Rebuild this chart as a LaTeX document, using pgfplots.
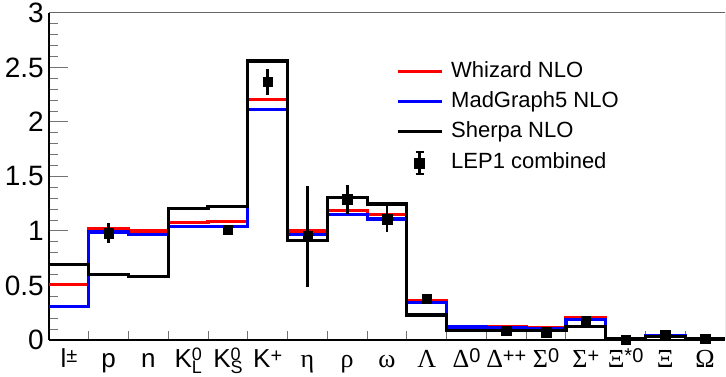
\documentclass[border=0pt]{standalone}
\usepackage{fontspec}
\setmainfont{Liberation Sans}
\newfontfamily\grk{Liberation Serif}
\usepackage{pgfplots}
\pgfplotsset{compat=1.18}
\usepackage{pgfplotstable}

% raised / lowered indices for the particle names
\newcommand\sps[1]{\raisebox{5pt}{\normalfont\fontsize{20}{20}\selectfont #1}}
\newcommand\spk[1]{\raisebox{7pt}{\normalfont\fontsize{18}{18}\selectfont #1}}
\newcommand\sbs[1]{\raisebox{-6pt}{\normalfont\fontsize{18}{18}\selectfont #1}}
\newcommand\spsb[2]{\rlap{\spk{#1}}\sbs{#2}}

% legend symbols: a short line for the generators, a point with error bar for the data
\pgfplotsset{
  histleg/.style={legend image code/.code={\draw[##1] (0pt,0pt) -- (44pt,0pt);}},
  lepleg/.style={legend image code/.code={
    \draw[black, line width=2.6pt] (22pt,-11pt) -- (22pt,11pt);
    \draw[black, line width=2pt] (18pt,-11pt) -- (26pt,-11pt) (18pt,11pt) -- (26pt,11pt);
    \fill[black] (17pt,-5pt) rectangle (27pt,5pt);}},
}

% multiplicity ratios per species, bin left edge in column x
\pgfplotstableread{
x   whz    mg     sh
0   0.51   0.31   0.69
1   1.02   0.99   0.598
2   1.00   0.97   0.58
3   1.08   1.04   1.205
4   1.085  1.04   1.225
5   2.21   2.115  2.56
6   1.00   0.965  0.91
7   1.19   1.155  1.31
8   1.15   1.11   1.248
9   0.36   0.345  0.23
10  0.125  0.12   0.09
11  0.12   0.115  0.09
12  0.11   0.10   0.09
13  0.205  0.19   0.122
14  0.015  0.013  0.012
15  0.04   0.037  0.03
16  0.015  0.013  0.012
17  0.015  0.013  0.012
}\hists

% LEP1 combined measurements at bin centres
\pgfplotstableread{
x     y      e
1.5   0.98   0.09
4.5   1.01   0.02
5.5   2.37   0.12
6.5   0.95   0.46
7.5   1.29   0.13
8.5   1.11   0.115
9.5   0.377  0.01
11.5  0.086  0.005
12.5  0.07   0.005
13.5  0.178  0.01
14.5  0.005  0.002
15.5  0.046  0.003
16.5  0.01   0.002
}\lep

\begin{document}
\begin{tikzpicture}
\begin{axis}[
  at={(0pt,0pt)}, anchor=south west,
  scale only axis, width=676pt, height=327pt,
  xmin=0, xmax=17, ymin=0, ymax=3,
  axis x line*=bottom, axis y line*=left,
  axis line style={black, line width=1.5pt},
  tick align=inside,
  major tick length=19pt, minor tick length=9pt,
  every tick/.style={black!55, line width=1pt},
  xtick={0.5,1.5,...,16.5},
  every major x tick/.append style={draw=none},
  minor xtick={1,...,16},
  xticklabels={{l\sps{±}},p,n,{K\spsb{0}{L}},{K\spsb{0}{S}},{K\sps{+}},{\grk η},{\grk ρ},{\grk ω},{\grk Λ},{\grk Δ\sps{0}},{\grk Δ\sps{++}},{\grk Σ\sps{0}},{\grk Σ\sps{+}},{\grk Ξ\sps{*0}},{\grk Ξ},{\grk Ω}},
  xticklabel style={font=\fontsize{26}{28}\selectfont, anchor=north, inner sep=0pt, text height=22pt, yshift=-5pt},
  ytick={0,0.5,...,3}, minor y tick num=4,
  yticklabel style={font=\fontsize{28}{30}\selectfont, anchor=east, inner sep=0pt, xshift=-5pt},
  /pgf/number format/assume math mode=true,
  legend cell align=left,
  legend style={at={(0.5133,0.853)}, anchor=north west, draw=none, fill=none,
    inner sep=0pt, outer sep=0pt,
    font=\fontsize{22}{26}\selectfont, row sep=9pt, /tikz/column sep=8pt,
    nodes={inner sep=0pt, text height=16pt, text depth=5pt}},
]
\addplot[const plot, red, line width=3.2pt, histleg] table[x=x, y=whz] {\hists};
\addlegendentry{Whizard NLO}
\addplot[const plot, blue, line width=3.2pt, histleg] table[x=x, y=mg] {\hists};
\addlegendentry{MadGraph5 NLO}
\addplot[const plot, black, line width=3.2pt, histleg] table[x=x, y=sh] {\hists};
\addlegendentry{Sherpa NLO}
\addplot[only marks, black, mark=square*, mark size=4.75pt, lepleg,
  error bars/.cd, y dir=both, y explicit, error mark=none,
  error bar style={line width=2.6pt}]
  table[x=x, y=y, y error=e] {\lep};
\addlegendentry{LEP1 combined}
\draw[black!60, line width=1pt] (rel axis cs:0,1) -- (rel axis cs:1,1) -- (rel axis cs:1,0);
\end{axis}
\pgfresetboundingbox
\path (-49pt,-37pt) rectangle (677pt,340pt);
\end{tikzpicture}
\end{document}
